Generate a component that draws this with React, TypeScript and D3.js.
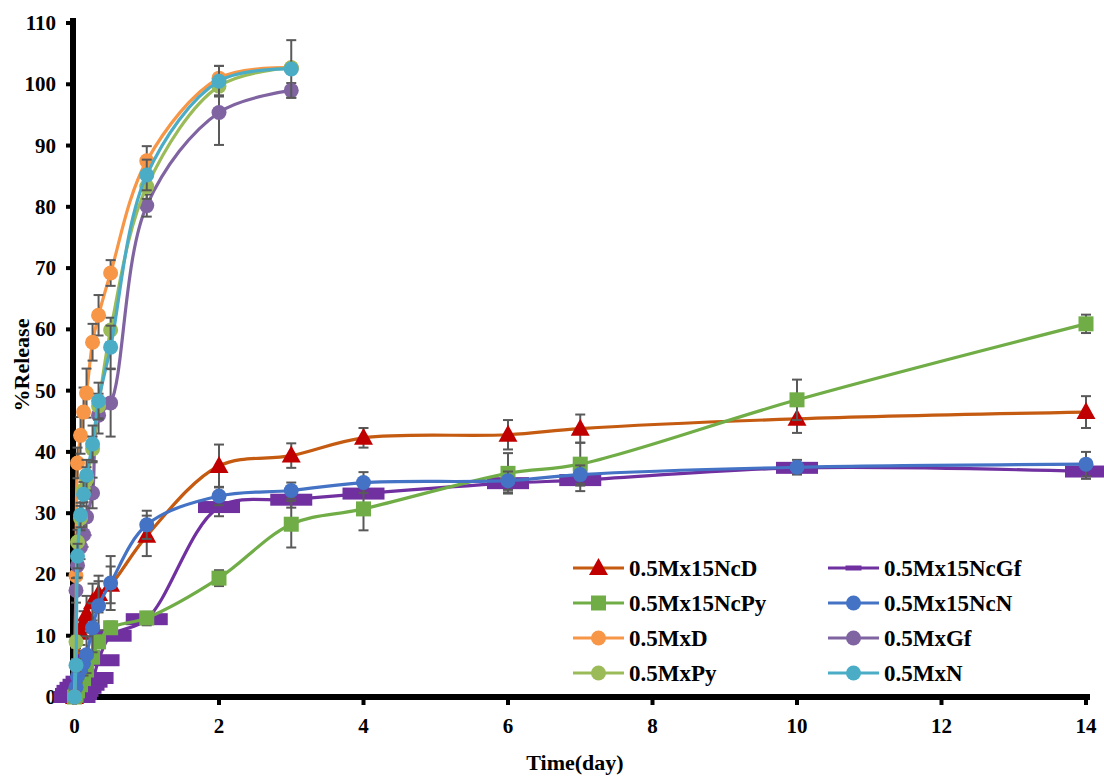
import React from "react";
import * as d3 from "d3";

const W = 1104;
const H = 776;

const xTicks = [0, 2, 4, 6, 8, 10, 12, 14];
const yTicks = [0, 10, 20, 30, 40, 50, 60, 70, 80, 90, 100, 110];

const timesMx = [0, 0.0208, 0.0417, 0.0833, 0.125, 0.1667, 0.25, 0.333, 0.5, 1, 2, 3];
const timesNc = [0, 0.0208, 0.0417, 0.0833, 0.125, 0.1667, 0.25, 0.333, 0.5, 1, 2, 3, 4, 6, 7, 10, 14];

const ncD = [0, 2, 4, 10.5, 12, 13.5, 15.5, 16.8, 18.3, 26.3, 37.7, 39.4, 42.3, 42.8, 43.8, 45.4, 46.5];
const ncDErr = [0, 1, 1, 2, 2, 3, 3, 3, 3, 3.3, 3.5, 2, 1.6, 2.4, 2.3, 2.3, 2.6];
const ncGf = [0, 0.5, 1, 1.5, 2, 2.5, 3.1, 6, 10, 12.7, 31, 32.2, 33.2, 34.9, 35.4, 37.4, 36.8];
const ncGfErr = [0, 0, 0, 0, 0, 0, 0, 0, 0, 1, 1.5, 1.3, 0.5, 1.5, 1.8, 0.7, 1.2];
const ncPy = [0, 0.3, 1, 2, 3, 4.4, 6.5, 9, 11.3, 12.9, 19.4, 28.2, 30.7, 36.5, 38, 48.5, 60.9];
const ncPyErr = [0, 0.3, 0.5, 1, 1, 1, 1, 1, 1, 1, 1.3, 3.8, 3.5, 3.3, 3.5, 3.3, 1.5];
const ncN = [0, 1.6, 3.4, 4.5, 5.5, 6.9, 11.3, 14.9, 18.6, 28.1, 32.8, 33.7, 35, 35.3, 36.3, 37.5, 38];
const ncNErr = [0, 0.5, 1, 1, 2, 3, 4, 4, 4.4, 2.3, 1.5, 1.3, 1.7, 1.5, 1.5, 1.2, 2];

const mxD = [0, 19.8, 38.2, 42.7, 46.5, 49.6, 57.9, 62.3, 69.2, 87.5, 101, 102.7];
const mxDErr = [0, 2, 2.5, 3, 4, 4, 3, 3.3, 2.1, 2.4, 2, 0.5];
const mxGf = [0, 17.4, 21.5, 24.5, 26.5, 29.4, 33.3, 46, 48, 80.2, 95.4, 99];
const mxGfErr = [0, 2, 2, 2, 2, 3, 2.5, 3, 5.5, 1.8, 5.3, 1.2];
const mxPy = [0, 9, 25.3, 29.2, 33.8, 35.5, 40.5, 47.5, 59.9, 83.3, 99.7, 102.7];
const mxPyErr = [0, 1, 2, 2, 2, 2, 2, 2, 2, 2, 1.5, 0.5];
const mxN = [0, 5.2, 23, 29.7, 33.1, 36.2, 41.3, 48.3, 57.1, 85.2, 100.5, 102.5];
const mxNErr = [0, 1, 2, 2, 2, 2.5, 3, 3, 3.5, 2.5, 2.5, 4.7];

type Series = {
  name: string;
  times: number[];
  values: number[];
  errs: number[];
  line: string;
  fill: string;
  marker: "triangle" | "dash" | "square" | "circle";
};

const series: Series[] = [
  { name: "0.5Mx15NcD", times: timesNc, values: ncD, errs: ncDErr, line: "#C55A11", fill: "#C00000", marker: "triangle" },
  { name: "0.5Mx15NcGf", times: timesNc, values: ncGf, errs: ncGfErr, line: "#7030A0", fill: "#7030A0", marker: "dash" },
  { name: "0.5Mx15NcPy", times: timesNc, values: ncPy, errs: ncPyErr, line: "#70AD47", fill: "#70AD47", marker: "square" },
  { name: "0.5Mx15NcN", times: timesNc, values: ncN, errs: ncNErr, line: "#4472C4", fill: "#4472C4", marker: "circle" },
  { name: "0.5MxD", times: timesMx, values: mxD, errs: mxDErr, line: "#F79646", fill: "#F79646", marker: "circle" },
  { name: "0.5MxGf", times: timesMx, values: mxGf, errs: mxGfErr, line: "#8064A2", fill: "#8064A2", marker: "circle" },
  { name: "0.5MxPy", times: timesMx, values: mxPy, errs: mxPyErr, line: "#9BBB59", fill: "#9BBB59", marker: "circle" },
  { name: "0.5MxN", times: timesMx, values: mxN, errs: mxNErr, line: "#4BACC6", fill: "#4BACC6", marker: "circle" },
];

const FONT = "'Liberation Serif', 'Times New Roman', serif";

function Marker({ kind, x, y, color, legend }: { kind: string; x: number; y: number; color: string; legend?: boolean }) {
  if (kind === "circle") return <circle cx={x} cy={y} r={7.5} fill={color} />;
  if (kind === "square") return <rect x={x - 7.5} y={y - 7.5} width={15} height={15} fill={color} />;
  if (kind === "triangle")
    return <path d={`M${x},${y - 10}L${x + 9.5},${y + 7}L${x - 9.5},${y + 7}Z`} fill={color} />;
  if (legend) return <rect x={x - 8} y={y - 2.5} width={16} height={5} fill={color} />;
  return <rect x={x - 21} y={y - 6} width={42} height={12} fill={color} />;
}

export default function App() {
  const x = d3.scaleLinear().domain([0, 14]).range([74.5, 1086]);
  const y = d3.scaleLinear().domain([0, 110]).range([697, 23]);

  const lineGen = (s: Series) =>
    d3
      .line<number>()
      .x((_, i) => x(s.times[i]))
      .y((v) => y(v))
      .curve(d3.curveCatmullRom.alpha(0.5))(s.values) || "";

  const legendRows = [568, 603, 638, 673];
  const legendCols = [573, 828];

  return (
    <svg width={W} height={H} style={{ position: "absolute", left: 0, top: 0, background: "#fff" }} fontFamily={FONT}>
      <rect x={0} y={0} width={W} height={H} fill="#fff" />

      {/* axes */}
      <line x1={73} y1={18} x2={73} y2={700} stroke="#000" strokeWidth={6} />
      <line x1={70} y1={697} x2={1090} y2={697} stroke="#000" strokeWidth={6} />
      {yTicks.map((t) => (
        <g key={"y" + t}>
          <line x1={66} x2={73} y1={y(t)} y2={y(t)} stroke="#000" strokeWidth={4} />
          <text x={56} y={y(t) + 7} textAnchor="end" fontSize={21} fontWeight="bold">
            {t}
          </text>
        </g>
      ))}
      {xTicks.map((t) => (
        <g key={"x" + t}>
          <line x1={x(t)} x2={x(t)} y1={697} y2={705} stroke="#000" strokeWidth={4} />
          <text x={x(t)} y={733} textAnchor="middle" fontSize={21} fontWeight="bold">
            {t}
          </text>
        </g>
      ))}
      <text x={575} y={770} textAnchor="middle" fontSize={22} fontWeight="bold">
        Time(day)
      </text>
      <text transform="translate(29,365) rotate(-90)" textAnchor="middle" fontSize={22} fontWeight="bold">
        %Release
      </text>

      {/* series */}
      {series.map((s) => (
        <g key={s.name}>
          <path d={lineGen(s)} fill="none" stroke={s.line} strokeWidth={3.2} />
          {s.values.map((v, i) =>
            s.errs[i] > 0 ? (
              <g key={i} stroke="#595959" strokeWidth={2}>
                <line x1={x(s.times[i])} x2={x(s.times[i])} y1={y(v + s.errs[i])} y2={y(v - s.errs[i])} />
                <line x1={x(s.times[i]) - 5} x2={x(s.times[i]) + 5} y1={y(v + s.errs[i])} y2={y(v + s.errs[i])} />
                <line x1={x(s.times[i]) - 5} x2={x(s.times[i]) + 5} y1={y(v - s.errs[i])} y2={y(v - s.errs[i])} />
              </g>
            ) : null
          )}
          {s.values.map((v, i) => (
            <Marker key={"m" + i} kind={s.marker} x={x(s.times[i])} y={y(v)} color={s.fill} />
          ))}
        </g>
      ))}

      {/* legend */}
      {series.map((s, i) => {
        const cx = legendCols[i % 2];
        const cy = legendRows[Math.floor(i / 2)];
        return (
          <g key={"lg" + s.name}>
            <line x1={cx} x2={cx + 51} y1={cy} y2={cy} stroke={s.line} strokeWidth={3.2} />
            <Marker kind={s.marker} x={cx + 25.5} y={cy} color={s.fill} legend />
            <text x={cx + 56} y={cy + 8} fontSize={23} fontWeight="bold">
              {s.name}
            </text>
          </g>
        );
      })}
    </svg>
  );
}
